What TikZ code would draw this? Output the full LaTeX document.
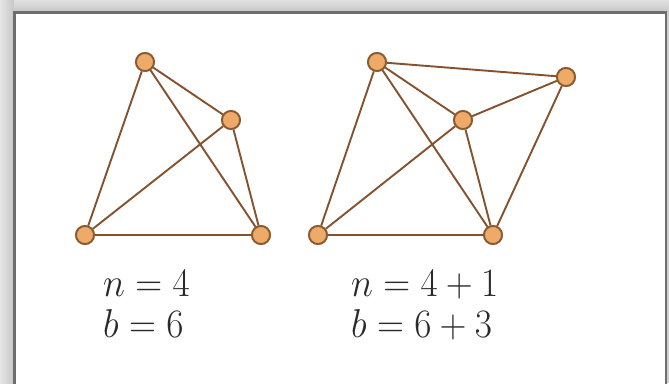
\documentclass[tikz,border=0pt]{standalone}
\usepackage{graphicx}
\definecolor{edgecol}{HTML}{85522E}
\definecolor{nodefill}{HTML}{EEAA68}
\definecolor{nodedraw}{HTML}{8B5A2E}
\definecolor{framecol}{HTML}{6E6E6E}
\definecolor{bandcol}{HTML}{CFCFCF}
\definecolor{textcol}{HTML}{2A2A2A}
\newcommand{\biglbl}[1]{\scalebox{1.5}[1.62]{$#1$}}
\begin{document}
\begin{tikzpicture}[x=1pt,y=1pt,
  vert/.style={circle,draw=nodedraw,fill=nodefill,line width=1.8pt,minimum size=18pt,inner sep=0pt},
  edge/.style={draw=edgecol,line width=1.9pt},
  base/.style={draw=edgecol,line width=2.5pt},
  lbl/.style={anchor=base west,inner sep=0pt,text=textcol,font=\Huge}]
\useasboundingbox (0,0) rectangle (669,-383);
% background band and frame
\fill[bandcol] (0,0) rectangle (669,-383);
\shade[left color=black!10,right color=black!22] (0,0) rectangle (14,-383);
\shade[top color=black!12,bottom color=black!22] (14,0) rectangle (669,-12);
\filldraw[fill=white,draw=framecol,line width=2.5pt] (14.5,-400) -- (14.5,-12.5) -- (666,-12.5) -- (666,-400);
% left graph
\node[vert] (A) at (145,-62) {};
\node[vert] (B) at (231,-120) {};
\node[vert] (C) at (85,-235) {};
\node[vert] (D) at (261,-235) {};
% right graph
\node[vert] (E) at (377,-62) {};
\node[vert] (F) at (566,-77) {};
\node[vert] (G) at (463,-120) {};
\node[vert] (H) at (318,-235) {};
\node[vert] (I) at (493,-235) {};
% edges
\path[edge] (A) -- (C) (A) -- (D) (A) -- (B) (B) -- (C) (B) -- (D);
\path[base] (C) -- (D);
\path[edge] (E) -- (H) (E) -- (F) (E) -- (G) (E) -- (I) (G) -- (F) (G) -- (H) (G) -- (I) (F) -- (I);
\path[base] (H) -- (I);
% redraw vertices on top
\foreach \p in {{145,-62},{231,-120},{85,-235},{261,-235},{377,-62},{566,-77},{463,-120},{318,-235},{493,-235}}
  \node[vert] at (\p) {};
% labels
\node[lbl] (n1) at (103,-296) {\biglbl{n=4}};
\node[lbl] (b1) at (103,-337) {\biglbl{b=6}};
\node[lbl] (n2) at (351,-296) {\biglbl{n=4+1}};
\node[lbl] (b2) at (351,-337) {\biglbl{b=6+3}};
\end{tikzpicture}
\end{document}
